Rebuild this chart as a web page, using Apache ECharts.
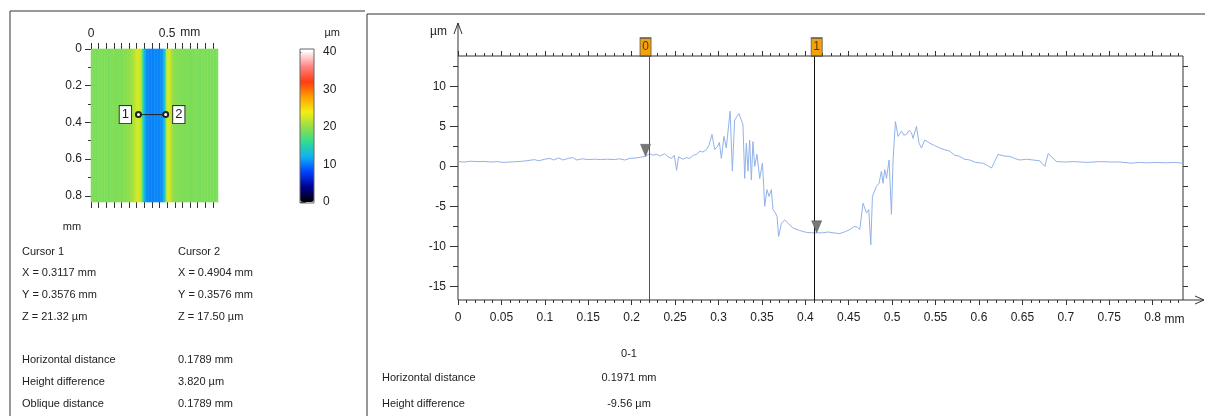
<!DOCTYPE html>
<html>
<head>
<meta charset="utf-8">
<script src="https://cdn.jsdelivr.net/npm/echarts@6/dist/echarts.min.js"></script>
<style>
  html, body { margin: 0; padding: 0; background: #fff; }
  #chart { width: 1205px; height: 416px; }
</style>
</head>
<body>
<div id="chart"></div>
<script>
// ---------- Surface map (left panel) ----------
// Height (µm) of each map column, left to right across 0 … 0.834 mm
const mapColumnZ = [
  19.0, 19.2, 19.1, 18.9, 19.0, 19.2, 19.3, 19.1, 19.0, 19.2,
  19.1, 18.9, 19.0, 19.2, 19.3, 19.1, 19.0, 19.1, 19.2, 19.3,
  19.2, 19.4, 19.6, 19.5, 19.7, 19.9, 20.2, 20.6, 21.0, 22.0,
  22.4, 22.8, 22.0, 21.0, 16.0, 12.5, 11.0, 10.6, 10.4, 10.5,
  10.3, 10.4, 10.6, 10.5, 10.4, 10.6, 10.8, 11.2, 12.8, 17.5,
  22.5, 22.8, 22.0, 20.8, 20.0, 19.6, 19.4, 19.3, 19.2, 19.3,
  19.1, 19.2, 19.0, 19.1, 19.2, 19.0, 18.9, 19.1, 19.0, 19.2,
  19.1, 19.0, 18.9, 19.0, 19.1, 19.0, 19.2, 19.1, 18.9, 19.0,
  19.1, 19.0, 18.9, 19.0
];
const mapXLabels = [0, 0.5];                 // labelled ticks on the map's top axis
const mapCursorNames = ['1', '2'];
const mapCursorX = [0.3117, 0.4904];         // mm
const mapCursorY = [0.3576, 0.3576];         // mm
const mapCursorZ = [21.32, 17.50];           // µm
const mapMeasureNames = ['Horizontal distance', 'Height difference', 'Oblique distance'];
const mapMeasureValues = ['0.1789 mm', '3.820 µm', '0.1789 mm'];
// Colour scale 0 … 40 µm, evenly spaced stops
const scaleColors = ['#000000', '#000090', '#0040ff', '#10b0f4', '#30dc90', '#94de48',
                     '#f4ee10', '#ffa000', '#ff3c10', '#ff8080', '#fff6f6'];

// ---------- Profile (right panel) ----------
// [position mm, height µm]
const profilePoints = [
  [0.000, 0.60], [0.008, 0.55], [0.015, 0.65], [0.022, 0.60], [0.030, 0.62], [0.038, 0.55],
  [0.045, 0.60], [0.052, 0.50], [0.060, 0.55], [0.068, 0.60], [0.075, 0.65], [0.082, 0.75],
  [0.088, 0.85], [0.093, 0.70], [0.100, 0.90], [0.106, 1.00], [0.110, 0.80], [0.116, 1.05],
  [0.121, 0.80], [0.127, 1.00], [0.132, 1.10], [0.137, 0.80], [0.143, 0.95], [0.150, 0.85],
  [0.158, 0.90], [0.165, 0.85], [0.172, 0.90], [0.180, 0.85], [0.186, 0.95], [0.192, 0.80],
  [0.198, 1.00], [0.205, 1.05], [0.210, 1.15], [0.216, 1.26],
  [0.2207, 1.6], [0.2240, 1.4], [0.2288, 1.5], [0.2330, 1.3], [0.2380, 1.6], [0.2420, 1.2],
  [0.2460, 1.0], [0.2490, 1.4], [0.2518, -0.5], [0.2540, 1.2], [0.2590, 0.9], [0.2630, 1.1],
  [0.2669, 1.0], [0.2710, 1.4], [0.2750, 1.5], [0.2784, 1.9], [0.2820, 1.8], [0.2860, 2.1],
  [0.2890, 2.6], [0.2925, 4.0], [0.2956, 2.1], [0.2990, 2.5], [0.3010, 3.0], [0.3033, 1.0],
  [0.3063, 3.75], [0.3090, 2.3], [0.3134, 6.9], [0.3160, -0.6], [0.3186, 5.8], [0.3236, 6.6],
  [0.3282, 5.2], [0.3302, -1.5], [0.3321, 2.9], [0.3340, -0.6], [0.3359, 3.3], [0.3379, -1.7],
  [0.3397, 3.1], [0.3417, 0.0], [0.3443, 1.5], [0.3475, -1.5], [0.3506, 0.4], [0.3521, -2.5],
  [0.3532, -5.0], [0.3559, -2.9], [0.3582, -3.75], [0.3609, -2.9], [0.3628, -5.4], [0.3655, -5.8],
  [0.3674, -6.25], [0.3693, -8.75], [0.3725, -7.1], [0.3763, -6.7], [0.3810, -7.2], [0.3858, -7.7],
  [0.3930, -8.0], [0.4013, -8.25], [0.4080, -8.3], [0.4131, -8.30], [0.4200, -8.3], [0.4260, -8.2],
  [0.4319, -8.3], [0.4396, -8.4], [0.4450, -8.2], [0.4512, -7.9], [0.4569, -7.5], [0.4600, -7.6],
  [0.4627, -7.9], [0.4665, -4.6], [0.4704, -5.8], [0.4731, -5.4], [0.4754, -9.8], [0.4773, -3.75],
  [0.4819, -2.5], [0.4849, -2.1], [0.4877, -0.6], [0.4895, -2.1], [0.4915, -0.4], [0.4935, -1.5],
  [0.4965, 0.8], [0.4992, -6.0], [0.5011, 0.8], [0.5038, 5.6], [0.5068, 3.75], [0.5107, 4.4],
  [0.5135, 3.9], [0.5165, 4.0], [0.5195, 4.5], [0.5223, 4.2], [0.5241, 3.5], [0.5280, 5.0],
  [0.5310, 2.9], [0.5338, 2.3], [0.5376, 3.3], [0.5434, 2.9], [0.5490, 2.6], [0.5549, 2.3],
  [0.5600, 2.1], [0.5664, 1.9], [0.5720, 1.4], [0.5780, 1.25], [0.5830, 0.9], [0.5895, 0.8],
  [0.5960, 0.5], [0.6048, 0.4], [0.6100, 0.1], [0.6145, -0.2], [0.6180, 0.6], [0.6220, 1.5],
  [0.6290, 1.3], [0.6355, 1.25], [0.6410, 1.0], [0.6470, 0.8], [0.6550, 0.9], [0.6624, 0.8],
  [0.6700, 0.7], [0.6759, 0.0], [0.6797, 1.6], [0.6836, 1.2], [0.6894, 0.6], [0.7000, 0.55],
  [0.7100, 0.6], [0.7240, 0.5], [0.7400, 0.6], [0.7520, 0.55], [0.7623, 0.55], [0.7750, 0.4],
  [0.7850, 0.5], [0.7931, 0.45], [0.8050, 0.5], [0.8150, 0.45], [0.8250, 0.5], [0.8350, 0.4]
];
const profileCursorNames = ['0', '1'];
const profileCursorX = [0.2160, 0.4131];     // mm
const profileCursorZ = [1.26, -8.30];        // µm

// ---------- layout ----------
const FONT = "'Liberation Sans', Arial, sans-serif";
const INK = '#333';
const TXT = '#222';
const FS = 11;      // read-out text
const AFS = 12;     // axis numbers

const MAP = { left: 91, top: 49, width: 127, height: 153 };   // 0 … 0.834 mm both ways
const MAP_PX_X = MAP.width / 0.834, MAP_PX_Y = MAP.height / 0.834;
const BAR = { left: 300, top: 52, width: 14, height: 150 };   // 0 … 40 µm
const PRO = { left: 458, top: 56, width: 725, height: 244 };
const PRO_X = [0, 0.835], PRO_Y = [-16.7, 13.8];
const pxX = PRO.width / (PRO_X[1] - PRO_X[0]);
const pxY = PRO.height / (PRO_Y[1] - PRO_Y[0]);

const lbl = (extra) => Object.assign({ fontFamily: FONT, fontSize: AFS, color: TXT }, extra || {});
const tick = (len) => ({ show: true, length: len, lineStyle: { color: INK, width: 1 } });
const hidden = (gridIndex, extra) => Object.assign({ type: 'value', gridIndex, show: false, min: 0, max: 1 }, extra || {});
const ticksOnly = (gridIndex, extra) => Object.assign({
  type: 'value', gridIndex, axisLine: { show: false }, splitLine: { show: false },
  axisLabel: { show: false }, axisTick: tick(5)
}, extra);

const heatData = mapColumnZ.map((z, i) => [i, 0, z]);

const grids = [
  // 0: map image
  { left: MAP.left, top: MAP.top, width: MAP.width, height: MAP.height },
  // 1: map axes 0 … 0.8 mm (top and left)
  { left: MAP.left, top: MAP.top, width: 0.8 * MAP_PX_X, height: 0.8 * MAP_PX_Y },
  // 2: colour bar scale
  { left: BAR.left, top: BAR.top, width: BAR.width, height: BAR.height },
  // 3: profile plot area
  { left: PRO.left, top: PRO.top, width: PRO.width, height: PRO.height, show: true,
    borderColor: INK, borderWidth: 1, backgroundColor: 'transparent' },
  // 4: profile x ticks every 0.05 (0 … 0.8)
  { left: PRO.left, top: PRO.top, width: 0.8 * pxX, height: PRO.height },
  // 5: profile x ticks every 0.01 (0 … 0.83)
  { left: PRO.left, top: PRO.top, width: 0.83 * pxX, height: PRO.height },
  // 6: profile y ticks every 5 (-15 … 10)
  { left: PRO.left, top: PRO.top + (PRO_Y[1] - 10) * pxY, width: PRO.width, height: 25 * pxY },
  // 7: profile y ticks every 2.5 (-15 … 12.5)
  { left: PRO.left, top: PRO.top + (PRO_Y[1] - 12.5) * pxY, width: PRO.width, height: 27.5 * pxY },
  // 8: map bottom ticks (under the image)
  { left: MAP.left, top: MAP.top, width: 0.8 * MAP_PX_X, height: MAP.height },
  // 9: map right ticks (beside the image)
  { left: MAP.left, top: MAP.top, width: MAP.width, height: 0.8 * MAP_PX_Y }
];

const minor = (n, len) => ({ show: true, splitNumber: n, length: len, lineStyle: { color: INK } });

const xAxes = [
  { type: 'category', gridIndex: 0, show: false, data: mapColumnZ.map((_, i) => i) },
  ticksOnly(1, { position: 'top', min: 0, max: 0.8, interval: 0.05, axisTick: tick(6),
    axisLabel: lbl({ show: true, margin: 9,
      formatter: v => mapXLabels.some(t => Math.abs(t - v) < 1e-9) ? String(v) : '' }) }),
  ticksOnly(8, { position: 'bottom', min: 0, max: 0.8, interval: 0.05, axisTick: tick(6) }),
  hidden(2),
  { type: 'value', gridIndex: 3, show: false, min: PRO_X[0], max: PRO_X[1] },
  ticksOnly(4, { position: 'bottom', min: 0, max: 0.8, interval: 0.05, axisTick: tick(5),
    axisLabel: lbl({ show: true, margin: 12 }) }),
  ticksOnly(4, { position: 'top', min: 0, max: 0.8, interval: 0.05, axisTick: tick(5) }),
  ticksOnly(5, { position: 'bottom', min: 0, max: 0.83, interval: 0.01, axisTick: tick(3) }),
  ticksOnly(5, { position: 'top', min: 0, max: 0.83, interval: 0.01, axisTick: tick(3) }),
  hidden(6),
  hidden(7),
  hidden(9)
];

const yAxes = [
  { type: 'category', gridIndex: 0, show: false, data: ['z'] },
  ticksOnly(1, { position: 'left', inverse: true, min: 0, max: 0.8, interval: 0.2, axisTick: tick(6),
    minorTick: minor(2, 3), minorSplitLine: { show: false },
    axisLabel: lbl({ show: true, margin: 9 }) }),
  ticksOnly(9, { position: 'right', inverse: true, min: 0, max: 0.8, interval: 0.2, axisTick: tick(5),
    minorTick: minor(2, 3), minorSplitLine: { show: false } }),
  ticksOnly(2, { position: 'right', min: 0, max: 40, interval: 10, axisTick: tick(6),
    minorTick: minor(4, 6), minorSplitLine: { show: false },
    axisLabel: lbl({ show: true, margin: 9 }) }),
  { type: 'value', gridIndex: 3, show: false, min: PRO_Y[0], max: PRO_Y[1] },
  hidden(4),
  hidden(5),
  ticksOnly(6, { position: 'left', min: -15, max: 10, interval: 5, axisTick: tick(8),
    axisLabel: lbl({ show: true, margin: 12 }) }),
  ticksOnly(7, { position: 'left', min: -15, max: 12.5, interval: 2.5, axisTick: tick(5) }),
  ticksOnly(7, { position: 'right', min: -15, max: 12.5, interval: 2.5, axisTick: tick(5) }),
  hidden(8)
];

// ---------- page furniture and read-outs ----------
const line = (x1, y1, x2, y2, color, w) => ({ type: 'line', silent: true, z: 20,
  shape: { x1, y1, x2, y2 }, style: { stroke: color || INK, lineWidth: w || 1 } });
const poly = (pts) => ({ type: 'polyline', silent: true, z: 20, shape: { points: pts },
  style: { stroke: INK, lineWidth: 1, fill: null } });
const text = (x, y, s, align, size) => ({ type: 'text', silent: true, z: 20, x, y,
  style: { text: s, font: (size || FS) + 'px ' + FONT, fill: TXT, align: align || 'left', verticalAlign: 'middle' } });

const col1 = 22, col2 = 178;
const rowsY = [251.7, 273.3, 295, 316.7];
const measY = [360, 382.3, 404.3];
const graphics = [
  // panel frames
  line(10, 11, 365, 11), line(10, 11, 10, 416),
  line(367, 14, 1205, 14), line(367, 14, 367, 416),
  // colour bar outline and unit
  { type: 'rect', silent: true, z: 20, shape: { x: BAR.left, y: 49, width: BAR.width, height: 154 },
    style: { fill: null, stroke: '#666', lineWidth: 1 } },
  text(340, 33, 'µm', 'right'),
  // map axis units
  text(MAP.left + 0.5 * MAP_PX_X + 13, 33, 'mm', 'left', AFS),
  text(72, 227, 'mm', 'center'),
  // profile axis arrows and units
  line(PRO.left, PRO.top, PRO.left, 23),
  poly([[PRO.left - 4, 34], [PRO.left, 23], [PRO.left + 4, 34]]),
  line(PRO.left + PRO.width, PRO.top + PRO.height, 1204, PRO.top + PRO.height),
  poly([[1195, PRO.top + PRO.height - 4], [1204, PRO.top + PRO.height], [1195, PRO.top + PRO.height + 4]]),
  text(447, 32, 'µm', 'right', AFS),
  text(PRO.left + 0.8 * pxX + 12, 319.5, 'mm', 'left', AFS)
];
// map cursor read-out
mapCursorNames.forEach((n, i) => {
  const x = i === 0 ? col1 : col2;
  graphics.push(text(x, rowsY[0], 'Cursor ' + n));
  graphics.push(text(x, rowsY[1], 'X = ' + mapCursorX[i].toFixed(4) + ' mm'));
  graphics.push(text(x, rowsY[2], 'Y = ' + mapCursorY[i].toFixed(4) + ' mm'));
  graphics.push(text(x, rowsY[3], 'Z = ' + mapCursorZ[i].toFixed(2) + ' µm'));
});
mapMeasureNames.forEach((n, i) => {
  graphics.push(text(col1, measY[i], n));
  graphics.push(text(col2, measY[i], mapMeasureValues[i]));
});
// profile cursor read-out
const proDist = (profileCursorX[1] - profileCursorX[0]).toFixed(4) + ' mm';
const proDiff = (profileCursorZ[1] - profileCursorZ[0]).toFixed(2) + ' µm';
graphics.push(text(629, 353.5, profileCursorNames[0] + '-' + profileCursorNames[1], 'center'));
graphics.push(text(382, 378, 'Horizontal distance'));
graphics.push(text(629, 378, proDist, 'center'));
graphics.push(text(382, 403.5, 'Height difference'));
graphics.push(text(629, 403.5, proDiff, 'center'));

const cursorLineColors = ['#555', '#111'];

const option = {
  animation: false,
  backgroundColor: '#fff',
  textStyle: { fontFamily: FONT },
  grid: grids,
  xAxis: xAxes,
  yAxis: yAxes,
  visualMap: {
    type: 'continuous', seriesIndex: 0, min: 0, max: 40, calculable: false, realtime: false,
    hoverLink: false, left: BAR.left, top: BAR.top, itemWidth: BAR.width, itemHeight: BAR.height,
    padding: 0, inRange: { color: scaleColors }
  },
  graphic: graphics,
  series: [
    { type: 'heatmap', xAxisIndex: 0, yAxisIndex: 0, data: heatData, progressive: 0,
      itemStyle: { borderWidth: 0 }, emphasis: { disabled: true } },
    { type: 'line', xAxisIndex: 1, yAxisIndex: 1, z: 5,
      data: mapCursorX.map((x, i) => ({
        value: [x, mapCursorY[i]],
        label: { show: true, position: i === 0 ? 'left' : 'right', formatter: mapCursorNames[i] }
      })),
      symbol: 'emptyCircle', symbolSize: 5, lineStyle: { color: '#222', width: 1 },
      itemStyle: { color: '#222', borderColor: '#222', borderWidth: 1 },
      label: lbl({ backgroundColor: '#fff', borderColor: '#333', borderWidth: 1,
        padding: [2, 2, 1, 2], distance: 4, fontSize: 13, lineHeight: 14 }) },
    { type: 'line', xAxisIndex: 4, yAxisIndex: 4, data: profilePoints, symbol: 'none',
      lineStyle: { color: '#92b2ea', width: 1 }, z: 3,
      markLine: {
        silent: true, symbol: ['none', 'none'], label: { show: false },
        data: profileCursorX.map((x, i) => ({ xAxis: x,
          lineStyle: { color: cursorLineColors[i], width: 1, type: 'solid' } }))
      },
      markPoint: {
        silent: true,
        data: profileCursorX.map((x, i) => ({
          coord: [x, PRO_Y[1]], symbol: 'rect', symbolSize: [11, 18], symbolOffset: [0, -9],
          itemStyle: { color: '#f4a20c', borderColor: '#555', borderWidth: 1 },
          label: lbl({ show: true, position: 'inside', formatter: profileCursorNames[i],
            color: '#5a3a00', fontSize: 12 })
        })).concat(profileCursorX.map((x, i) => ({
          coord: [x, profileCursorZ[i]], symbol: 'triangle', symbolRotate: 180,
          symbolSize: [10, 12], symbolOffset: [0, -6],
          itemStyle: { color: '#777', borderColor: '#555', borderWidth: 0.5 },
          label: { show: false }
        })))
      }
    }
  ]
};

const chart = echarts.init(document.getElementById('chart'), null, { renderer: 'canvas' });
chart.setOption(option);
</script>
</body>
</html>
